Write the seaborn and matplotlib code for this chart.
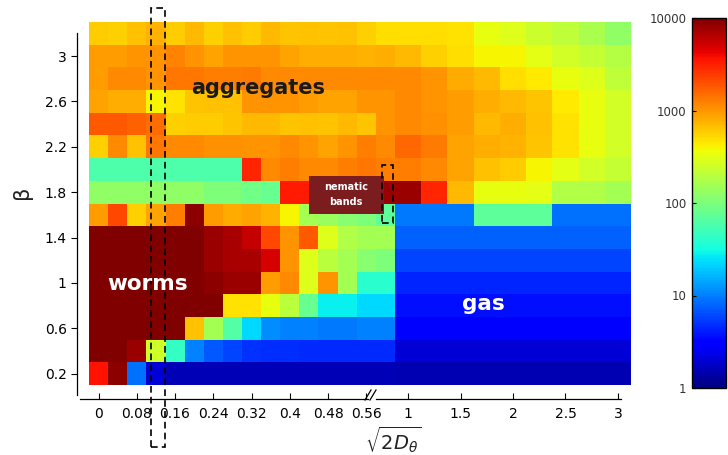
import numpy as np
import pandas as pd
import matplotlib
matplotlib.use("Agg")
import matplotlib.pyplot as plt
from matplotlib.colors import LogNorm
from matplotlib.lines import Line2D
from matplotlib.patches import Rectangle
import seaborn as sns

# ---- data -------------------------------------------------------------
# rows: alignment strength beta (top to bottom)
beta = [3.2, 3.0, 2.8, 2.6, 2.4, 2.2, 2.0, 1.8, 1.6, 1.4, 1.2, 1.0, 0.8, 0.6, 0.4, 0.2]
# columns: rotational noise sqrt(2 D_theta), fine grid before the axis break
noise_low = [0.0, 0.04, 0.08, 0.12, 0.16, 0.20, 0.24, 0.28,
             0.32, 0.36, 0.40, 0.44, 0.48, 0.52, 0.56, 0.60]
# coarse grid after the axis break
noise_high = [1.0, 1.25, 1.5, 1.75, 2.0, 2.25, 2.5, 2.75, 3.0]

# log10 of the mean cluster size, one row per beta
log_size_low = [
    [2.78, 2.75, 2.82, 2.88, 2.78, 2.85, 2.75, 2.82, 2.78, 2.85, 2.80, 2.82, 2.80, 2.82, 2.75, 2.70],
    [2.98, 2.98, 3.00, 3.00, 3.08, 3.00, 2.95, 3.00, 3.00, 3.00, 2.95, 2.90, 2.90, 2.90, 2.88, 2.90],
    [2.98, 3.05, 3.05, 3.00, 3.14, 3.14, 3.10, 3.10, 3.12, 3.05, 3.05, 3.05, 3.05, 3.05, 3.05, 3.05],
    [2.95, 2.90, 2.90, 2.60, 2.68, 2.80, 2.82, 2.82, 3.00, 3.00, 3.00, 2.98, 2.95, 2.95, 3.00, 3.00],
    [3.26, 3.26, 3.22, 3.18, 2.75, 2.78, 2.78, 2.80, 2.85, 2.85, 2.80, 2.82, 2.80, 2.85, 2.80, 3.00],
    [2.75, 3.05, 2.82, 3.14, 3.05, 3.05, 3.02, 3.02, 3.00, 3.00, 3.05, 3.00, 2.95, 3.00, 3.10, 3.05],
    [1.78, 1.78, 1.78, 1.78, 1.78, 1.78, 1.78, 1.78, 3.47, 3.05, 3.10, 3.05, 3.05, 3.10, 3.14, 3.10],
    [2.10, 2.10, 2.10, 2.10, 2.10, 2.10, 2.00, 2.00, 1.95, 1.90, 3.52, 3.52, 3.80, 3.80, 3.85, 3.90],
    [2.98, 3.34, 2.75, 2.95, 3.10, 3.95, 2.98, 2.92, 2.95, 2.88, 2.60, 2.20, 2.15, 2.05, 2.00, 1.85],
    [4.00, 4.00, 4.00, 4.00, 4.00, 4.00, 3.90, 3.85, 3.75, 3.34, 3.00, 3.26, 2.47, 2.25, 2.20, 2.20],
    [4.00, 4.00, 4.00, 4.00, 4.00, 4.00, 3.90, 3.85, 3.85, 3.70, 3.00, 2.47, 2.30, 2.20, 2.05, 2.00],
    [4.00, 4.00, 4.00, 4.00, 4.00, 4.00, 3.95, 3.90, 3.90, 2.98, 3.05, 2.47, 3.00, 2.20, 1.60, 1.60],
    [4.00, 4.00, 4.00, 4.00, 4.00, 4.00, 4.00, 2.68, 2.68, 2.52, 2.30, 1.90, 1.45, 1.45, 1.35, 1.35],
    [4.00, 4.00, 4.00, 4.00, 4.00, 2.82, 2.20, 1.80, 1.35, 1.05, 1.00, 1.00, 0.98, 0.98, 1.00, 1.00],
    [4.00, 4.00, 3.90, 2.40, 1.65, 1.00, 0.85, 0.78, 0.70, 0.68, 0.68, 0.66, 0.66, 0.66, 0.66, 0.66],
    [3.55, 3.95, 0.95, 0.30, 0.20, 0.20, 0.20, 0.20, 0.20, 0.20, 0.20, 0.20, 0.20, 0.20, 0.20, 0.20],
]
log_size_high = [
    [2.70, 2.70, 2.68, 2.52, 2.47, 2.38, 2.32, 2.22, 2.10],
    [2.85, 2.75, 2.70, 2.60, 2.60, 2.50, 2.42, 2.35, 2.28],
    [3.05, 3.00, 2.92, 2.85, 2.70, 2.65, 2.52, 2.47, 2.32],
    [3.05, 3.00, 2.98, 2.90, 2.85, 2.80, 2.65, 2.52, 2.42],
    [3.05, 3.02, 2.98, 2.85, 2.90, 2.82, 2.68, 2.52, 2.42],
    [3.20, 3.12, 2.95, 2.90, 2.88, 2.80, 2.68, 2.52, 2.42],
    [3.10, 3.05, 2.95, 2.82, 2.78, 2.60, 2.50, 2.42, 2.35],
    [3.90, 3.47, 2.85, 2.52, 2.52, 2.50, 2.25, 2.25, 2.20],
    [0.97, 0.97, 0.97, 1.85, 1.85, 1.85, 0.95, 0.95, 0.95],
    [0.88, 0.88, 0.88, 0.88, 0.88, 0.88, 0.88, 0.88, 0.88],
    [0.78, 0.78, 0.78, 0.78, 0.78, 0.78, 0.78, 0.78, 0.78],
    [0.65, 0.65, 0.65, 0.65, 0.65, 0.65, 0.65, 0.65, 0.65],
    [0.55, 0.55, 0.55, 0.55, 0.55, 0.55, 0.55, 0.55, 0.55],
    [0.45, 0.45, 0.45, 0.45, 0.45, 0.45, 0.45, 0.45, 0.45],
    [0.30, 0.30, 0.30, 0.30, 0.30, 0.30, 0.30, 0.30, 0.30],
    [0.18, 0.18, 0.18, 0.18, 0.18, 0.18, 0.18, 0.18, 0.18],
]

beta_ticks = [3, 2.6, 2.2, 1.8, 1.4, 1, 0.6, 0.2]
noise_low_ticks = [0, 0.08, 0.16, 0.24, 0.32, 0.4, 0.48, 0.56]
noise_high_ticks = [1, 1.5, 2, 2.5, 3]
cbar_ticks = [1, 10, 100, 1000, 10000]

# ---- layout helpers (pixel -> figure fraction) ------------------------
W, H = 728, 455
fig = plt.figure(figsize=(W / 100, H / 100), dpi=100)
fig.patch.set_facecolor("white")


def fx(px):
    return px / W


def fy(py):
    return 1 - py / H


top, bottom = 22, 385
x_left, x_break, x_right = 89, 395, 631
ax_lo = fig.add_axes([fx(x_left), fy(bottom), (x_break - x_left) / W, (bottom - top) / H])
ax_hi = fig.add_axes([fx(x_break), fy(bottom), (x_right - x_break) / W, (bottom - top) / H])
cax = fig.add_axes([fx(692), fy(388), (726 - 692) / W, (388 - 18) / H])

df_lo = pd.DataFrame(10 ** np.array(log_size_low), index=beta, columns=noise_low)
df_hi = pd.DataFrame(10 ** np.array(log_size_high), index=beta, columns=noise_high)

sns.heatmap(df_lo, ax=ax_lo, cmap="jet", norm=LogNorm(vmin=1, vmax=1e4), cbar=False,
            xticklabels=False, yticklabels=False)
sns.heatmap(df_hi, ax=ax_hi, cmap="jet", norm=LogNorm(vmin=1, vmax=1e4),
            cbar=True, cbar_ax=cax, xticklabels=False, yticklabels=False)

tick_color = "#555555"
font = "DejaVu Sans"

# ---- y axis (beta) ----------------------------------------------------
row_h = (bottom - top) / len(beta)
ypos = [int(np.argmin(np.abs(np.array(beta) - b))) + 0.5 for b in beta_ticks]
ax_lo.set_yticks(ypos)
ax_lo.set_yticklabels([f"{b:g}" for b in beta_ticks], rotation=0, color=tick_color,
                      fontsize=9.5, family=font)
sp = ax_lo.spines["left"]
sp.set_visible(True)
sp.set_position(("outward", x_left - 80))
sp.set_bounds((33 - top) / row_h, (395 - top) / row_h)
sp.set_linewidth(0.9)
ax_lo.tick_params(axis="y", left=True, direction="out", length=4, width=0.8, pad=3)

# ---- x axis (sqrt(2 D_theta)) with a break --------------------------
col_lo = (x_break - x_left) / len(noise_low)
col_hi = (x_right - x_break) / len(noise_high)
xpos_lo = [int(np.argmin(np.abs(np.array(noise_low) - v))) + 0.5 for v in noise_low_ticks]
xpos_hi = [int(np.argmin(np.abs(np.array(noise_high) - v))) + 0.5 for v in noise_high_ticks]
ax_lo.set_xticks(xpos_lo)
ax_lo.set_xticklabels([f"{v:g}" for v in noise_low_ticks], rotation=0, color=tick_color,
                      fontsize=9.5, family=font)
ax_hi.set_xticks(xpos_hi)
ax_hi.set_xticklabels([f"{v:g}" for v in noise_high_ticks], rotation=0, color=tick_color,
                      fontsize=9.5, family=font)
ax_hi.set_yticks([])

spine_y = 395
for ax, lo, hi in [(ax_lo, (80 - x_left) / col_lo, (368 - x_left) / col_lo),
                   (ax_hi, (376 - x_break) / col_hi, (621 - x_break) / col_hi)]:
    sb = ax.spines["bottom"]
    sb.set_visible(True)
    sb.set_position(("outward", spine_y - bottom))
    sb.set_bounds(lo, hi)
    sb.set_linewidth(0.9)
    ax.tick_params(axis="x", bottom=True, direction="in", length=4, width=0.8, pad=6)

# break marks on the x axis
for x0 in (365, 370):
    fig.add_artist(Line2D([fx(x0), fx(x0 + 6)], [fy(spine_y + 5), fy(spine_y - 5)],
                          transform=fig.transFigure, color="black", lw=0.9))

# ---- colour bar ---------------------------------------------------------
cb = ax_hi.collections[0].colorbar
cb.outline.set_linewidth(1.0)
cb.outline.set_edgecolor("black")
cax.minorticks_off()
cax.yaxis.set_ticks_position("left")
cax.yaxis.set_label_position("left")
cb.set_ticks(cbar_ticks)
cb.set_ticklabels([f"{t:g}" for t in cbar_ticks])
cax.tick_params(axis="y", direction="in", length=3, width=0.8, labelsize=8.5,
                labelcolor="#333333", pad=4)
for t in cax.get_yticklabels():
    t.set_family(font)

# ---- axis titles ------------------------------------------------------
fig.text(fx(22), fy(192), "β", rotation=90, fontsize=15, ha="center", va="center",
         color="#222222", family=font)
fig.text(fx(393), fy(440), r"$\sqrt{2D_\theta}$", fontsize=14, ha="center", va="center",
         color="#222222")

# ---- phase labels -------------------------------------------------------
fig.text(fx(258), fy(94), "aggregates", fontsize=15, fontweight="bold", ha="center",
         va="baseline", color="#1a1a1a", family=font)
fig.text(fx(148), fy(290), "worms", fontsize=15.5, fontweight="bold", ha="center",
         va="baseline", color="white", family=font)
fig.text(fx(483), fy(310), "gas", fontsize=15.5, fontweight="bold", ha="center",
         va="baseline", color="white", family=font)

fig.add_artist(Rectangle((fx(309), fy(214)), (384 - 309) / W, (214 - 176) / H,
                         transform=fig.transFigure, facecolor="#7b1c1f", edgecolor="none"))
fig.text(fx(346), fy(187), "nematic", fontsize=7, fontweight="bold", ha="center",
         va="center", color="white", family=font)
fig.text(fx(346), fy(202), "bands", fontsize=7, fontweight="bold", ha="center",
         va="center", color="white", family=font)

# dashed guides around the highlighted regions
for (xa, ya, xb, yb) in [(151, 8, 165, 447), (382, 165, 393, 223)]:
    fig.add_artist(Rectangle((fx(xa), fy(yb)), (xb - xa) / W, (yb - ya) / H,
                             transform=fig.transFigure, fill=False, edgecolor="black",
                             lw=1.2, linestyle=(0, (4, 2.5))))

fig.savefig("out.png", dpi=100, facecolor="white")
